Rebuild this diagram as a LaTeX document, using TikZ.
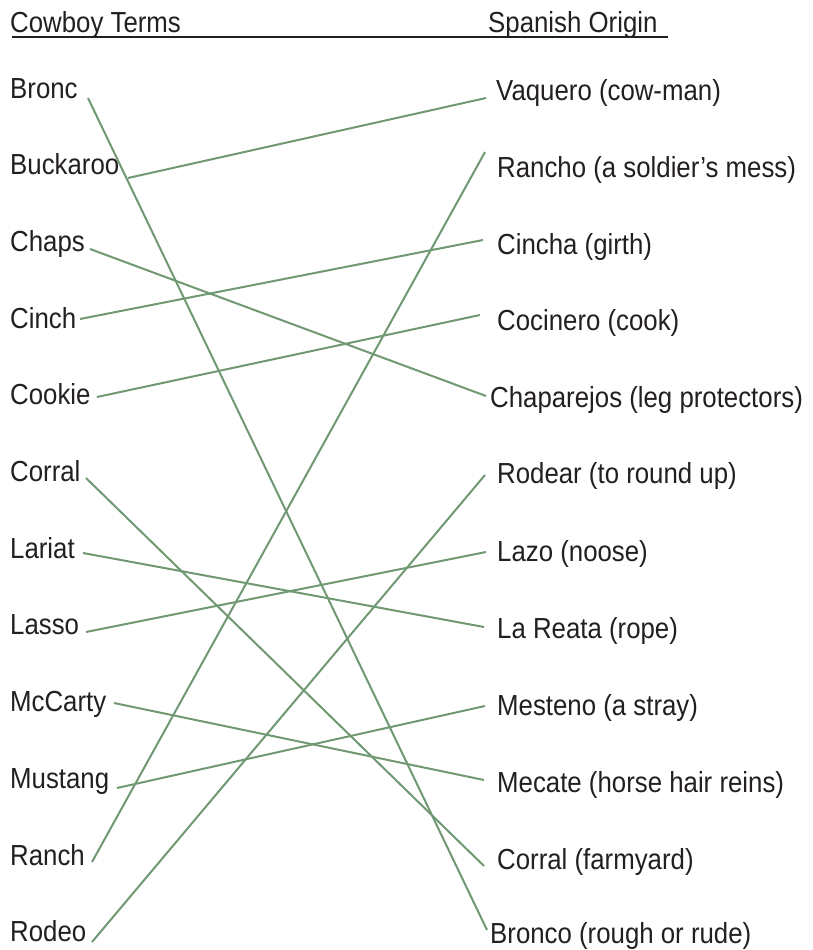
\documentclass[tikz,border=0pt]{standalone}
\usepackage{fontspec}
\setmainfont{Liberation Sans}[FakeStretch=0.89]
\definecolor{txt}{HTML}{231F20}
\definecolor{sage}{HTML}{6F9873}
\begin{document}
\begin{tikzpicture}[x=1pt,y=-1pt,
  lbl/.style={anchor=base west,inner sep=0pt,text=txt,font=\fontsize{29}{29}\selectfont},
  link/.style={draw=sage,line width=2pt}]
\useasboundingbox (0,0) rectangle (812,950);
% headers
\node[lbl] (hl) at (10,33) {Cowboy Terms};
\node[lbl] (hr) at (488,33) {Spanish Origin};
\coordinate (ul1) at (12,37);
\coordinate (ul2) at (668,37);
\draw[txt,line width=1.4pt] (ul1) -- (ul2);
% left column
\foreach \n/\t [count=\i from 0] in {bronc/Bronc,buckaroo/Buckaroo,chaps/Chaps,cinch/Cinch,cookie/Cookie,corral/Corral,lariat/Lariat,lasso/Lasso,mccarty/McCarty,mustang/Mustang,ranch/Ranch,rodeo/Rodeo}
  \node[lbl] (\n) at (10,{98+76.7*\i}) {\t};
% right column
\node[lbl] (vaquero) at (496,100) {Vaquero (cow-man)};
\node[lbl] (rancho) at (497,177) {Rancho (a soldier’s mess)};
\node[lbl] (cincha) at (497,254) {Cincha (girth)};
\node[lbl] (cocinero) at (497,330) {Cocinero (cook)};
\node[lbl] (chaparejos) at (490,407) {Chaparejos (leg protectors)};
\node[lbl] (rodear) at (497,483) {Rodear (to round up)};
\node[lbl] (lazo) at (497,561) {Lazo (noose)};
\node[lbl] (reata) at (497,638) {La Reata (rope)};
\node[lbl] (mesteno) at (497,715) {Mesteno (a stray)};
\node[lbl] (mecate) at (497,792) {Mecate (horse hair reins)};
\node[lbl] (corralf) at (497,869) {Corral (farmyard)};
\node[lbl] (bronco) at (490,943) {Bronco (rough or rude)};
% connector end points
\coordinate (bronc-e) at (88,98);
\coordinate (buckaroo-e) at (128,178);
\coordinate (chaps-e) at (90,249);
\coordinate (cinch-e) at (80,319);
\coordinate (cookie-e) at (97,397);
\coordinate (corral-e) at (86,478);
\coordinate (lariat-e) at (83,553);
\coordinate (lasso-e) at (86,632);
\coordinate (mccarty-e) at (114,703);
\coordinate (mustang-e) at (117,788);
\coordinate (ranch-e) at (92,862);
\coordinate (rodeo-e) at (92,942);
\coordinate (vaquero-w) at (486,98);
\coordinate (rancho-w) at (485,152);
\coordinate (cincha-w) at (483,240);
\coordinate (cocinero-w) at (480,315);
\coordinate (chaparejos-w) at (486,396);
\coordinate (rodear-w) at (485,475);
\coordinate (lazo-w) at (486,552);
\coordinate (reata-w) at (484,627);
\coordinate (mesteno-w) at (485,706);
\coordinate (mecate-w) at (484,780);
\coordinate (corralf-w) at (484,866);
\coordinate (bronco-w) at (487,930);
% connectors
\draw[link] (bronc-e) -- (bronco-w);
\draw[link] (buckaroo-e) -- (vaquero-w);
\draw[link] (chaps-e) -- (chaparejos-w);
\draw[link] (cinch-e) -- (cincha-w);
\draw[link] (cookie-e) -- (cocinero-w);
\draw[link] (corral-e) -- (corralf-w);
\draw[link] (lariat-e) -- (reata-w);
\draw[link] (lasso-e) -- (lazo-w);
\draw[link] (mccarty-e) -- (mecate-w);
\draw[link] (mustang-e) -- (mesteno-w);
\draw[link] (ranch-e) -- (rancho-w);
\draw[link] (rodeo-e) -- (rodear-w);
\end{tikzpicture}
\end{document}
